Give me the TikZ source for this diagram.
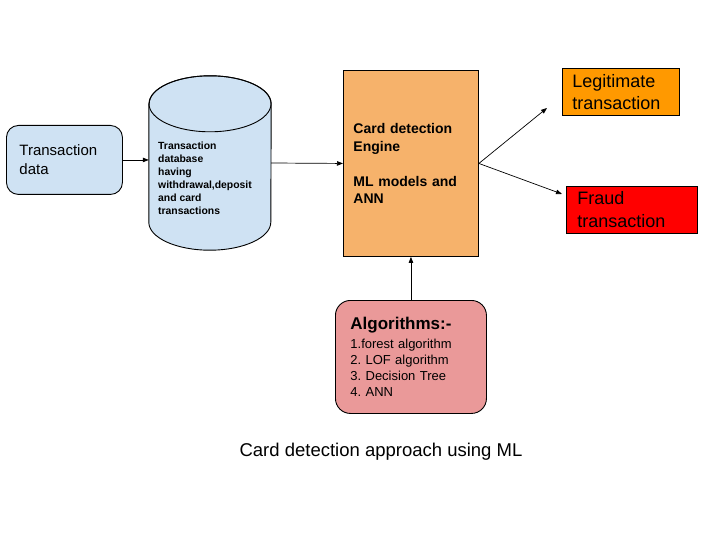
\documentclass[tikz,border=0pt]{standalone}
\usepackage{fontspec}
\setmainfont{Liberation Sans}
\usepackage{tikz}
\usetikzlibrary{calc,arrows.meta}
\usepackage{xcolor}
\definecolor{dbblue}{HTML}{CFE2F3}
\definecolor{engineorange}{HTML}{F6B26B}
\definecolor{legitorange}{HTML}{FF9900}
\definecolor{fraudred}{HTML}{FF0000}
\definecolor{algopink}{HTML}{EA9999}
\frenchspacing

\begin{document}
\begin{tikzpicture}[x=1pt,y=-1pt,>={Triangle[length=6pt,width=4.5pt]}]
    \tikzstyle{box}=[draw,line width=0.9pt,align=left,anchor=north west,inner ysep=0pt]
    \tikzstyle{flow}=[->,line width=0.7pt]
    \useasboundingbox (0,0) rectangle (720,540);

    \node(tx)[box,rounded corners=12,fill=dbblue,minimum width=116,minimum height=69,
        inner xsep=13,text width=90,font=\fontsize{15}{19}\selectfont] at (6,125)
        {Transaction\\data};
    \node(db)[minimum width=122,minimum height=174,inner sep=0] at (210,163) {};
    % cylinder
    \draw[line width=0.9pt,fill=dbblue]($(db.north west)+(0,28)$)--($(db.south west)+(0,-28)$)
        arc[start angle=180,end angle=0,x radius=61,y radius=28]
        --($(db.north east)+(0,28)$)
        arc[start angle=0,end angle=-180,x radius=61,y radius=28]--cycle;
    \draw[line width=0.9pt]($(db.north)+(0,28)$) ellipse[x radius=61,y radius=28];
    \node(dbtext)[anchor=north west,inner sep=0,align=left,
        font=\fontsize{10.4}{13}\selectfont\bfseries] at (158,141.5)
        {Transaction\\database\\having\\withdrawal,deposit\\and card\\transactions};

    \node(engine)[box,fill=engineorange,minimum width=135,minimum height=186,
        inner xsep=10,text width=115,font=\fontsize{14}{17.5}\selectfont\bfseries] at (343,70)
        {Card detection\\Engine\\[17.5pt]ML models and\\ANN};
    \node(legit)[box,fill=legitorange,minimum width=117,minimum height=47,
        inner xsep=10,text width=97,font=\fontsize{18}{22}\selectfont] at (562,68)
        {Legitimate\\transaction};
    \node(fraud)[box,fill=fraudred,minimum width=131,minimum height=47,
        inner xsep=11,text width=109,font=\fontsize{18}{23}\selectfont] at (566,186)
        {Fraud\\transaction};
    \node(algo)[box,rounded corners=15,fill=algopink,minimum width=151,minimum height=113,
        inner xsep=15,text width=121,font=\fontsize{13}{16}\selectfont] at (335,300)
        {{\fontsize{17}{19}\selectfont\bfseries Algorithms:-}\\[3pt]1.forest algorithm\\2. LOF algorithm\\3. Decision Tree\\4. ANN};

    \coordinate(legitin) at (547,108);
    \coordinate(fraudin) at (562,194);

    \draw[flow](tx.east)--(tx.east -| db.west);
    \draw[flow](db.east)--(engine.west);
    \draw[flow](engine.east)--(legitin);
    \draw[flow](engine.east)--(fraudin);
    \draw[flow](algo.north)--(engine.south);

    % caption
    \node(caption)[font=\fontsize{18.5}{22}\selectfont] at (381,452) {Card detection approach using ML};
\end{tikzpicture}
\end{document}
